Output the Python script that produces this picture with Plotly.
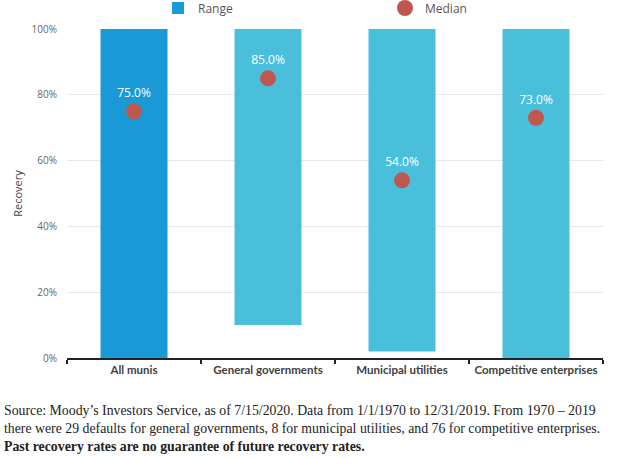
import plotly.graph_objects as go

# recovery rates by sector (Moody's, 1970-2019)
sectors = ["All munis", "General governments", "Municipal utilities", "Competitive enterprises"]
range_low = [0, 10, 2, 0]
range_high = [100, 100, 100, 100]
median = [75.0, 85.0, 54.0, 73.0]
bar_colors = ["#1999d6", "#4abfdc", "#4abfdc", "#4abfdc"]

footer_lines = [
    "Source: Moody’s Investors Service, as of 7/15/2020. Data from 1/1/1970 to 12/31/2019. From 1970 – 2019",
    "there were 29 defaults for general governments, 8 for municipal utilities, and 76 for competitive enterprises.",
    "<b>Past recovery rates are no guarantee of future recovery rates.</b>",
]

fig = go.Figure()

fig.add_trace(go.Bar(
    x=sectors,
    y=[h - l for h, l in zip(range_high, range_low)],
    base=range_low,
    name="Range",
    width=0.5,
    marker=dict(color=bar_colors, line=dict(width=0)),
    hoverinfo="skip",
))

fig.add_trace(go.Scatter(
    x=sectors,
    y=median,
    name="Median",
    mode="markers+text",
    marker=dict(size=16, color="#c0574f"),
    text=[f"{m:.1f}%" for m in median],
    textposition="top center",
    textfont=dict(family="Open Sans, sans-serif", size=12, color="white"),
))

fig.update_layout(
    width=619,
    height=458,
    margin=dict(l=67, r=16, t=29, b=100, autoexpand=False),
    plot_bgcolor="white",
    paper_bgcolor="white",
    font=dict(family="Open Sans, sans-serif", color="#555555"),
    showlegend=True,
    legend=dict(
        orientation="h",
        x=158 / 619, xanchor="left", xref="container",
        y=1 - 8 / 458, yanchor="middle", yref="container",
        entrywidth=182, entrywidthmode="pixels",
        itemwidth=30,
        font=dict(size=12, color="#555555"),
    ),
    xaxis=dict(
        type="category",
        tickson="boundaries",
        ticks="outside",
        ticklen=4,
        tickwidth=1.5,
        tickcolor="#222222",
        tickangle=0,
        showline=True,
        linecolor="#222222",
        linewidth=1.5,
        showgrid=False,
        tickfont=dict(family="Lato, sans-serif", size=11.5, color="#404040", weight="bold"),
    ),
    yaxis=dict(
        range=[0, 100],
        dtick=20,
        ticksuffix="%",
        showgrid=True,
        gridcolor="#e6e9ec",
        zeroline=False,
        showline=False,
        ticklabelstandoff=9,
        tickfont=dict(size=10, color="#666666"),
        title=dict(text="Recovery", font=dict(size=11, color="#444444"), standoff=6),
    ),
)

for i, line in enumerate(footer_lines):
    fig.add_annotation(
        text=line,
        xref="paper", yref="paper",
        x=-67 / 536, xanchor="left",
        y=0, yanchor="middle",
        yshift=-(52 + i * 18),
        showarrow=False,
        align="left",
        xshift=2,
        font=dict(family="Liberation Serif, DejaVu Serif, serif", size=13.8, color="#222222"),
    )

# page body has an 8px default margin; drop it so the figure sits at the corner
fig.write_html("out.html", config={"displayModeBar": False},
               post_script="document.body.style.margin='0';")
